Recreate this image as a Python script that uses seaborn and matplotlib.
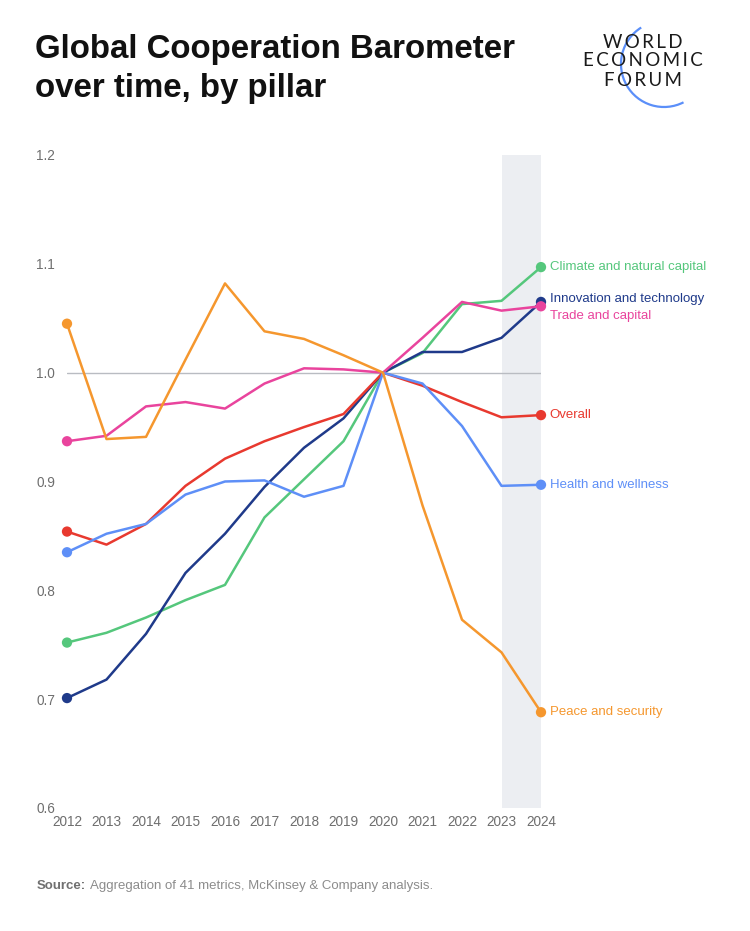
import numpy as np
import pandas as pd
import seaborn as sns
import matplotlib.pyplot as plt
from matplotlib.patches import Arc

years = list(range(2012, 2025))

pillars = [
    "Climate and natural capital",
    "Innovation and technology",
    "Trade and capital",
    "Overall",
    "Health and wellness",
    "Peace and security",
]

climate = [0.752, 0.761, 0.775, 0.791, 0.805, 0.867, 0.902, 0.937, 1.000, 1.018, 1.063, 1.066, 1.097]
innovation = [0.701, 0.718, 0.760, 0.816, 0.852, 0.895, 0.931, 0.958, 1.000, 1.019, 1.019, 1.032, 1.065]
trade = [0.937, 0.942, 0.969, 0.973, 0.967, 0.990, 1.004, 1.003, 1.000, 1.032, 1.065, 1.057, 1.061]
overall = [0.854, 0.842, 0.861, 0.896, 0.921, 0.937, 0.950, 0.962, 1.000, 0.988, 0.973, 0.959, 0.961]
health = [0.835, 0.852, 0.861, 0.888, 0.900, 0.901, 0.886, 0.896, 1.000, 0.990, 0.951, 0.896, 0.897]
peace = [1.045, 0.939, 0.941, 1.012, 1.082, 1.038, 1.031, 1.016, 1.000, 0.878, 0.773, 0.743, 0.688]

colors = {
    "Climate and natural capital": "#55c77c",
    "Innovation and technology": "#1f3a8a",
    "Trade and capital": "#e9449d",
    "Overall": "#e8392f",
    "Health and wellness": "#5e8ff7",
    "Peace and security": "#f5972e",
}

# label nudges (data units) so the stacked end labels don't collide
label_dy = {
    "Climate and natural capital": 0.0,
    "Innovation and technology": 0.003,
    "Trade and capital": -0.009,
    "Overall": 0.0,
    "Health and wellness": 0.0,
    "Peace and security": 0.0,
}

series = [climate, innovation, trade, overall, health, peace]
df = pd.DataFrame(
    [(y, p, v) for p, vals in zip(pillars, series) for y, v in zip(years, vals)],
    columns=["year", "pillar", "value"],
)

sns.set_style("white")
plt.rcParams["font.family"] = ["Liberation Sans", "DejaVu Sans"]

W, H = 750, 931
fig = plt.figure(figsize=(W / 100, H / 100), dpi=100)
ax = fig.add_axes([67 / W, 1 - 808 / H, (541 - 67) / W, (808 - 155) / H])

ax.axvspan(2023, 2024, color="#eceef2", zorder=0, lw=0)
ax.axhline(1.0, color="#b9bcc2", lw=1, zorder=1)

sns.lineplot(data=df, x="year", y="value", hue="pillar", palette=colors,
             linewidth=1.8, ax=ax, legend=False, zorder=3)

ends = df[df["year"].isin([years[0], years[-1]])]
for p in pillars:
    sub = ends[ends["pillar"] == p]
    ax.scatter(sub["year"], sub["value"], color=colors[p], s=55, zorder=4,
               clip_on=False, edgecolor="none")
    last = sub[sub["year"] == years[-1]]["value"].iloc[0]
    ax.text(years[-1] + 0.22, last + label_dy[p], p, color=colors[p],
            fontsize=9.5, va="center", ha="left")

yticks = [0.6, 0.7, 0.8, 0.9, 1.0, 1.1, 1.2]
ax.set_xlim(2012, 2024)
ax.set_ylim(0.6, 1.2)
ax.set_xticks(years)
ax.set_yticks(yticks)
ax.set_yticklabels([f"{t:.1f}" for t in yticks])
ax.tick_params(axis="both", length=0, labelsize=9.8, labelcolor="#6e6e6e")
ax.tick_params(axis="y", pad=8.5)
ax.tick_params(axis="x", pad=5)
ax.set_xlabel("")
ax.set_ylabel("")
for s in ax.spines.values():
    s.set_visible(False)
ax.patch.set_alpha(0)

# overlay in pixel coordinates for title, logo and source
ov = fig.add_axes([0, 0, 1, 1], zorder=-1)
ov.set_xlim(0, W)
ov.set_ylim(H, 0)
ov.axis("off")

title_font = dict(fontsize=23.8, fontweight="bold", color="#111111",
                  ha="left", va="baseline")
ov.text(35, 58, "Global Cooperation Barometer", **title_font)
ov.text(35, 97, "over time, by pillar", **title_font)

logo_font = dict(fontsize=13.5, color="#1a1a1a", ha="center", va="center",
                 family=["Lato", "DejaVu Sans"])
for txt, yy in [("WORLD", 42), ("ECONOMIC", 61), ("FORUM", 80)]:
    ov.text(643, yy, "\u2009".join(txt), **logo_font)
ov.add_patch(Arc((664, 64), 86, 86, theta1=63, theta2=238, color="#5b8ff9", lw=1.6))

src = ov.text(37, 886, "Source:", fontsize=9.5, fontweight="bold", color="#707070",
              ha="left", va="center")
fig.canvas.draw()
bb = src.get_window_extent()
x_next = bb.x1 + 4
ov.text(x_next, H - 886, "Aggregation of 41 metrics, McKinsey & Company analysis.",
        fontsize=9.5, color="#8c8c8c", ha="left", va="center",
        transform=None)

fig.savefig("out.png", dpi=100)
